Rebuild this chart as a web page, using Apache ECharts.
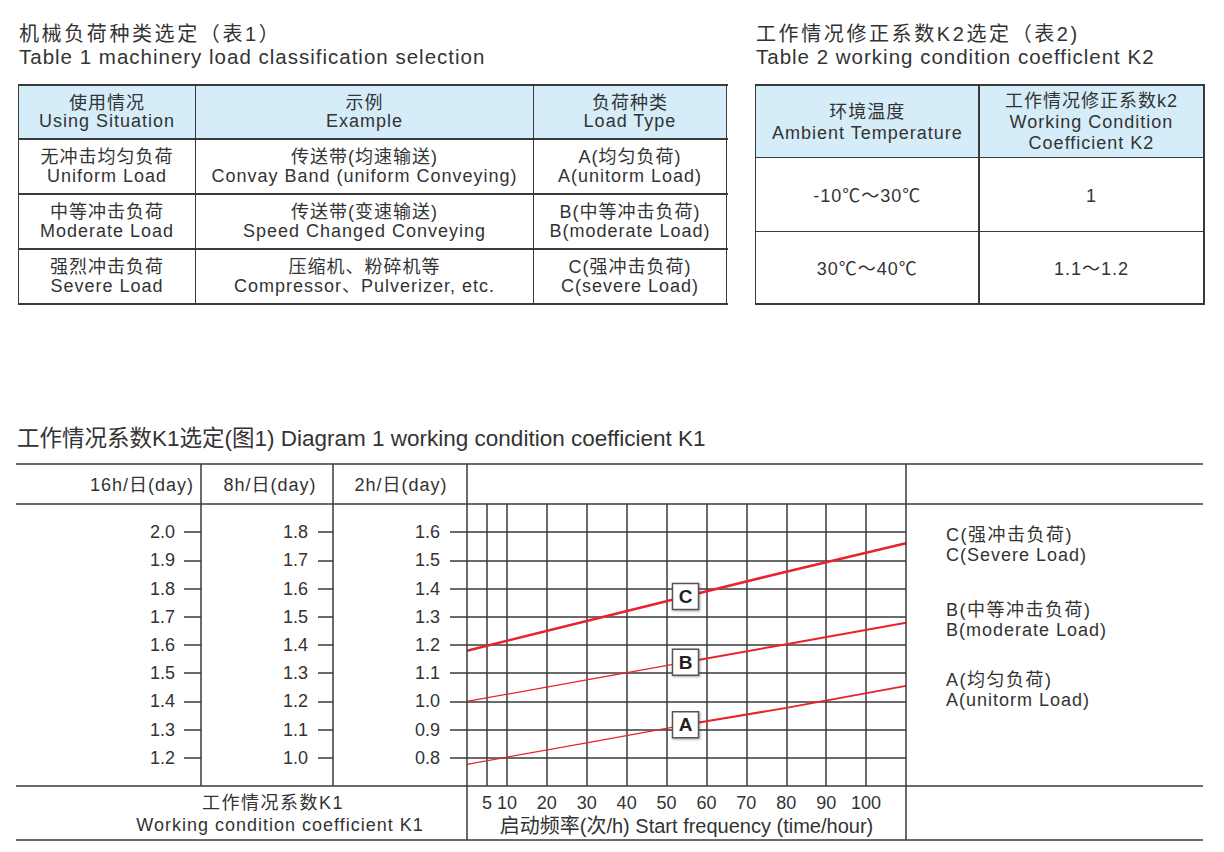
<!DOCTYPE html>
<html><head><meta charset="utf-8">
<script src="https://cdn.jsdelivr.net/npm/echarts@6/dist/echarts.min.js"></script>
<style>
html,body{margin:0;padding:0;background:#fff;width:1224px;height:852px;overflow:hidden;}
body{font-family:"Liberation Sans",Arial,"Noto Sans CJK SC",sans-serif;color:#333;position:relative;}
#chart{position:absolute;left:0;top:0;width:1224px;height:852px;}
.ttl{position:absolute;white-space:nowrap;}
.cn{font-size:20px;line-height:20px;letter-spacing:2.6px;}
.en{font-size:20.5px;line-height:22px;letter-spacing:1px;}
.cell{position:absolute;display:flex;align-items:center;justify-content:center;text-align:center;font-size:18px;letter-spacing:1px;white-space:nowrap;box-sizing:border-box;}
.ln{position:absolute;background:#3a3a3a;}
.hbg{position:absolute;background:#d5ecf9;}
.dt{position:absolute;white-space:nowrap;font-size:18px;line-height:20px;height:20px;letter-spacing:1px;}
</style></head>
<body>
<div id="chart"></div>
<div id="tables"></div>
<script>
// ---------- data ----------
const table1Title = ["机械负荷种类选定（表1）", "Table 1 machinery load classification selection"];
const table1Header = [["使用情况", "Using Situation"], ["示例", "Example"], ["负荷种类", "Load Type"]];
const table1Rows = [
  [["无冲击均匀负荷", "Uniform Load"], ["传送带(均速输送)", "Convay Band (uniform Conveying)"], ["A(均匀负荷)", "A(unitorm Load)"]],
  [["中等冲击负荷", "Moderate Load"], ["传送带(变速输送)", "Speed Changed Conveying"], ["B(中等冲击负荷)", "B(moderate Load)"]],
  [["强烈冲击负荷", "Severe Load"], ["压缩机、粉碎机等", "Compressor、Pulverizer, etc."], ["C(强冲击负荷)", "C(severe Load)"]]
];
const table2Title = ["工作情况修正系数K2选定（表2)", "Table 2 working condition coefficlent K2"];
const table2Header = [["环境温度", "Ambient Temperature"], ["工作情况修正系数k2", "Working Condition", "Coefficient K2"]];
const table2Rows = [
  [["-10℃～30℃"], ["1"]],
  [["30℃～40℃"], ["1.1～1.2"]]
];

const diagramTitle = "工作情况系数K1选定(图1) Diagram 1 working condition coefficient K1";
const dutyHeaders = ["16h/日(day)", "8h/日(day)", "2h/日(day)"];
const freqTicks = [5, 10, 20, 30, 40, 50, 60, 70, 80, 90, 100];
const k1Ticks2h = [0.8, 0.9, 1.0, 1.1, 1.2, 1.3, 1.4, 1.5, 1.6];
const k1Ticks8h = [1.0, 1.1, 1.2, 1.3, 1.4, 1.5, 1.6, 1.7, 1.8];
const k1Ticks16h = [1.2, 1.3, 1.4, 1.5, 1.6, 1.7, 1.8, 1.9, 2.0];
const xAxisName = "启动频率(次/h) Start frequency (time/hour)";
const k1Label = ["工作情况系数K1", "Working condition coefficient K1"];
const legendC = ["C(强冲击负荷)", "C(Severe Load)"];
const legendB = ["B(中等冲击负荷)", "B(moderate Load)"];
const legendA = ["A(均匀负荷)", "A(unitorm Load)"];

// lines read on the 2h/day scale: [start frequency, K1]
const curveC = [[0, 1.18], [30, 1.285], [54.75, 1.372], [80, 1.46], [110, 1.561]];
const curveBLeft = [[0, 1.0], [30, 1.076], [54.75, 1.139]];
const curveBRight = [[54.75, 1.139], [80, 1.203], [110, 1.279]];
const curveALeft = [[0, 0.777], [30, 0.853], [54.75, 0.917]];
const curveARight = [[54.75, 0.917], [80, 0.977], [110, 1.055]];
const curveTags = [[54.75, 1.372, "C"], [54.75, 1.139, "B"], [54.75, 0.917, "A"]];

// ---------- tables (HTML) ----------
const root = document.getElementById('tables');
function el(cls, css, html) {
  const d = document.createElement('div');
  d.className = cls; Object.assign(d.style, css);
  if (html !== undefined) d.innerHTML = html;
  root.appendChild(d); return d;
}
function title(x, lines) {
  el('ttl cn', {left: x + 'px', top: '24px'}, lines[0]);
  el('ttl en', {left: x + 'px', top: '45.5px'}, lines[1]);
}
function buildTable(xs, ys, header, rows, lh, padTop) {
  const W = xs[xs.length - 1] - xs[0];
  el('hbg', {left: xs[0] + 'px', top: ys[0] + 'px', width: W + 'px', height: (ys[1] - ys[0]) + 'px'});
  [header].concat(rows).forEach((r, i) => r.forEach((c, j) => {
    el('cell', {left: xs[j] + 'px', top: ys[i] + 'px', width: (xs[j + 1] - xs[j]) + 'px',
      height: (ys[i + 1] - ys[i]) + 'px', lineHeight: lh + 'px', paddingTop: padTop + 'px'}, c.join('<br>'));
  }));
  const lw = 1.6;
  xs.forEach(x => el('ln', {left: (x - lw / 2) + 'px', top: (ys[0] - lw / 2) + 'px', width: lw + 'px', height: (ys[ys.length - 1] - ys[0] + lw) + 'px'}));
  ys.forEach(y => el('ln', {left: (xs[0] - lw / 2) + 'px', top: (y - lw / 2) + 'px', width: (W + lw) + 'px', height: lw + 'px'}));
}
title(19, table1Title);
title(756, table2Title);
buildTable([18.3, 195.7, 533.3, 726.7], [85, 139, 194, 249, 304], table1Header, table1Rows, 18.5, 0);
buildTable([755.7, 979, 1204], [85, 157.3, 231.7, 304], table2Header, table2Rows, 20.8, 3);

// diagram annotation texts (HTML, letter-spaced like the reference)
function note(x, y, s, align, spacing) {
  const tr = align === 'center' ? 'translate(-50%,-50%)' : align === 'right' ? 'translate(-100%,-50%)' : 'translate(0,-50%)';
  el('dt', {left: x + 'px', top: y + 'px', transform: tr, letterSpacing: (spacing || 1) + 'px'}, s);
}
note(194, 485, dutyHeaders[0], 'right');
note(270, 485, dutyHeaders[1], 'center');
note(401, 485, dutyHeaders[2], 'center');
note(273, 802.5, k1Label[0], 'center', 1.5);
note(280, 824.5, k1Label[1], 'center');
note(946, 534.5, legendC[0], 'left', 1.5);
note(946, 554.5, legendC[1], 'left');
note(946, 609.5, legendB[0], 'left', 1.5);
note(946, 629.5, legendB[1], 'left');
note(946, 679.5, legendA[0], 'left', 1.5);
note(946, 700, legendA[1], 'left');

// ---------- diagram (ECharts) ----------
const FONT = "'Liberation Sans', Arial, 'Noto Sans CJK SC', sans-serif";
const TXT = '#333', LINE = '#3a3a3a', RED = '#e8232b';
const G = {left: 16, right: 1203, top: 464, head: 504, plotL: 467, plotR: 906, plotB: 786, bottom: 840, col1: 201, col2: 333};

const chart = echarts.init(document.getElementById('chart'), null, {renderer: 'svg', width: 1224, height: 852});
const fmt1 = v => Number(v).toFixed(1);
function yAx(min, max, ticks, offset, tickLen, margin, split) {
  return {
    type: 'value', min: min, max: max, position: 'left', offset: offset,
    axisLine: {show: false},
    axisTick: {show: true, length: tickLen, customValues: ticks, lineStyle: {color: LINE, width: 1.5}},
    axisLabel: {customValues: ticks, margin: margin, fontSize: 18, color: TXT, fontFamily: FONT, formatter: fmt1},
    splitLine: {show: split, lineStyle: {color: LINE, width: 1.5}}
  };
}
function lineSeries(data, w) {
  return {type: 'line', data: data, xAxisIndex: 0, yAxisIndex: 0, symbol: 'none', z: 3,
    lineStyle: {color: RED, width: w}, silent: true};
}
function seg(x1, y1, x2, y2) {
  return {type: 'line', silent: true, shape: {x1: x1, y1: y1, x2: x2, y2: y2}, style: {stroke: LINE, lineWidth: 1.5}, z: 10};
}

const option = {
  animation: false,
  backgroundColor: 'transparent',
  title: {text: diagramTitle, left: 17, top: 427, padding: 0,
    textStyle: {fontSize: 22.5, fontWeight: 'normal', color: TXT, fontFamily: FONT}},
  grid: {left: G.plotL, top: G.head, right: 1224 - G.plotR, bottom: 852 - G.plotB, containLabel: false},
  xAxis: {
    type: 'value', min: 0, max: 110,
    axisLine: {show: false},
    axisTick: {show: false, customValues: freqTicks},
    axisLabel: {customValues: freqTicks, margin: 8, fontSize: 18, color: TXT, fontFamily: FONT},
    splitLine: {show: true, lineStyle: {color: LINE, width: 1.5}},
    name: xAxisName, nameLocation: 'middle', nameGap: 30,
    nameTextStyle: {fontSize: 20, color: TXT, fontFamily: FONT}
  },
  yAxis: [
    yAx(0.7, 1.7, k1Ticks2h, 0, 17, 27, true),
    yAx(0.9, 1.9, k1Ticks8h, G.plotL - G.col2, 15, 25, false),
    yAx(1.1, 2.1, k1Ticks16h, G.plotL - G.col1, 17, 26, false)
  ],
  series: [
    lineSeries(curveC, 2.6),
    lineSeries(curveBLeft, 1.3),
    lineSeries(curveBRight, 2),
    lineSeries(curveALeft, 1.3),
    lineSeries(curveARight, 2),
    {
      type: 'scatter', data: curveTags, symbol: 'rect', symbolSize: 26, z: 6, silent: true,
      itemStyle: {color: '#fff', borderColor: '#555', borderWidth: 1.5, opacity: 1,
        shadowBlur: 2, shadowColor: 'rgba(0,0,0,0.35)', shadowOffsetX: 1, shadowOffsetY: 1},
      label: {show: true, position: 'inside', formatter: p => p.value[2], fontSize: 19, fontWeight: 'bold',
        color: '#222', fontFamily: FONT}
    }
  ],
  graphic: [
    seg(G.left, G.top, G.right, G.top),
    seg(G.left, G.head, G.right, G.head),
    seg(G.left, G.plotB, G.right, G.plotB),
    seg(G.left, G.bottom, G.right, G.bottom),
    seg(G.col1, G.top, G.col1, G.plotB),
    seg(G.col2, G.top, G.col2, G.plotB),
    seg(G.plotL, G.top, G.plotL, G.bottom),
    seg(G.plotR, G.top, G.plotR, G.bottom)
  ]
};
chart.setOption(option);
</script>
</body></html>
